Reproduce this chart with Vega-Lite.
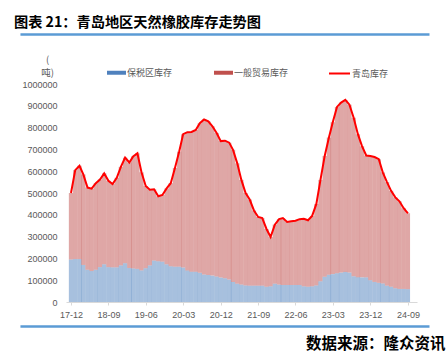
{
  "$schema": "https://vega.github.io/schema/vega-lite/v6.json",
  "width": 351,
  "height": 218,
  "autosize": {"type": "none"},
  "padding": {"left": 66, "top": 84, "right": 30, "bottom": 61},
  "background": "white",
  "config": {"view": {"stroke": null}, "font": "Liberation Sans", "axisX": {"labelOverlap": false, "labelFlush": false}},
  "title": {
    "text": "图表 21：青岛地区天然橡胶库存走势图",
    "anchor": "start",
    "frame": "group",
    "dx": -52,
    "offset": 3,
    "font": "Noto Sans CJK SC",
    "fontSize": 14.2,
    "fontWeight": "bold",
    "color": "#000000"
  },
  "data": {
    "values": [
      {"date": "2017/12/01", "保税区库存": 195000, "一般贸易库存": 305000, "青岛库存": 500000},
      {"date": "2018/01/01", "保税区库存": 197000, "一般贸易库存": 408000, "青岛库存": 605000},
      {"date": "2018/02/01", "保税区库存": 197000, "一般贸易库存": 428000, "青岛库存": 625000},
      {"date": "2018/03/01", "保税区库存": 170000, "一般贸易库存": 415000, "青岛库存": 585000},
      {"date": "2018/04/01", "保税区库存": 148000, "一般贸易库存": 377000, "青岛库存": 525000},
      {"date": "2018/05/01", "保税区库存": 142000, "一般贸易库存": 378000, "青岛库存": 520000},
      {"date": "2018/06/01", "保税区库存": 148000, "一般贸易库存": 397000, "青岛库存": 545000},
      {"date": "2018/07/01", "保税区库存": 160000, "一般贸易库存": 402000, "青岛库存": 562000},
      {"date": "2018/08/01", "保税区库存": 173000, "一般贸易库存": 417000, "青岛库存": 590000},
      {"date": "2018/09/01", "保税区库存": 160000, "一般贸易库存": 396000, "青岛库存": 556000},
      {"date": "2018/10/01", "保税区库存": 159000, "一般贸易库存": 382000, "青岛库存": 541000},
      {"date": "2018/11/01", "保税区库存": 159000, "一般贸易库存": 411000, "青岛库存": 570000},
      {"date": "2018/12/01", "保税区库存": 168000, "一般贸易库存": 452000, "青岛库存": 620000},
      {"date": "2019/01/01", "保税区库存": 178000, "一般贸易库存": 484000, "青岛库存": 662000},
      {"date": "2019/02/01", "保税区库存": 156000, "一般贸易库存": 484000, "青岛库存": 640000},
      {"date": "2019/03/01", "保税区库存": 154000, "一般贸易库存": 514000, "青岛库存": 668000},
      {"date": "2019/04/01", "保税区库存": 152000, "一般贸易库存": 530000, "青岛库存": 682000},
      {"date": "2019/05/01", "保税区库存": 145000, "一般贸易库存": 450000, "青岛库存": 595000},
      {"date": "2019/06/01", "保税区库存": 155000, "一般贸易库存": 377000, "青岛库存": 532000},
      {"date": "2019/07/01", "保税区库存": 168000, "一般贸易库存": 347000, "青岛库存": 515000},
      {"date": "2019/08/01", "保税区库存": 190000, "一般贸易库存": 327000, "青岛库存": 517000},
      {"date": "2019/09/01", "保税区库存": 187000, "一般贸易库存": 298000, "青岛库存": 485000},
      {"date": "2019/10/01", "保税区库存": 185000, "一般贸易库存": 306000, "青岛库存": 491000},
      {"date": "2019/11/01", "保税区库存": 173000, "一般贸易库存": 348000, "青岛库存": 521000},
      {"date": "2019/12/01", "保税区库存": 164000, "一般贸易库存": 381000, "青岛库存": 545000},
      {"date": "2020/01/01", "保税区库存": 162000, "一般贸易库存": 453000, "青岛库存": 615000},
      {"date": "2020/02/01", "保税区库存": 162000, "一般贸易库存": 528000, "青岛库存": 690000},
      {"date": "2020/03/01", "保税区库存": 158000, "一般贸易库存": 612000, "青岛库存": 770000},
      {"date": "2020/04/01", "保税区库存": 145000, "一般贸易库存": 634000, "青岛库存": 779000},
      {"date": "2020/05/01", "保税区库存": 139000, "一般贸易库存": 641000, "青岛库存": 780000},
      {"date": "2020/06/01", "保税区库存": 139000, "一般贸易库存": 650000, "青岛库存": 789000},
      {"date": "2020/07/01", "保税区库存": 134000, "一般贸易库存": 686000, "青岛库存": 820000},
      {"date": "2020/08/01", "保税区库存": 126000, "一般贸易库存": 711000, "青岛库存": 837000},
      {"date": "2020/09/01", "保税区库存": 124000, "一般贸易库存": 705000, "青岛库存": 829000},
      {"date": "2020/10/01", "保税区库存": 121000, "一般贸易库存": 685000, "青岛库存": 806000},
      {"date": "2020/11/01", "保税区库存": 117000, "一般贸易库存": 658000, "青岛库存": 775000},
      {"date": "2020/12/01", "保税区库存": 112000, "一般贸易库存": 626000, "青岛库存": 738000},
      {"date": "2021/01/01", "保税区库存": 109000, "一般贸易库存": 631000, "青岛库存": 740000},
      {"date": "2021/02/01", "保税区库存": 103000, "一般贸易库存": 628000, "青岛库存": 731000},
      {"date": "2021/03/01", "保税区库存": 92000, "一般贸易库存": 606000, "青岛库存": 698000},
      {"date": "2021/04/01", "保税区库存": 84000, "一般贸易库存": 552000, "青岛库存": 636000},
      {"date": "2021/05/01", "保税区库存": 80000, "一般贸易库存": 480000, "青岛库存": 560000},
      {"date": "2021/06/01", "保税区库存": 76000, "一般贸易库存": 424000, "青岛库存": 500000},
      {"date": "2021/07/01", "保税区库存": 75000, "一般贸易库存": 395000, "青岛库存": 470000},
      {"date": "2021/08/01", "保税区库存": 75000, "一般贸易库存": 345000, "青岛库存": 420000},
      {"date": "2021/09/01", "保税区库存": 75000, "一般贸易库存": 315000, "青岛库存": 390000},
      {"date": "2021/10/01", "保税区库存": 75000, "一般贸易库存": 310000, "青岛库存": 385000},
      {"date": "2021/11/01", "保税区库存": 70000, "一般贸易库存": 265000, "青岛库存": 335000},
      {"date": "2021/12/01", "保税区库存": 72000, "一般贸易库存": 226000, "青岛库存": 298000},
      {"date": "2022/01/01", "保税区库存": 84000, "一般贸易库存": 271000, "青岛库存": 355000},
      {"date": "2022/02/01", "保税区库存": 80000, "一般贸易库存": 300000, "青岛库存": 380000},
      {"date": "2022/03/01", "保税区库存": 78000, "一般贸易库存": 307000, "青岛库存": 385000},
      {"date": "2022/04/01", "保税区库存": 78000, "一般贸易库存": 289000, "青岛库存": 367000},
      {"date": "2022/05/01", "保税区库存": 78000, "一般贸易库存": 292000, "青岛库存": 370000},
      {"date": "2022/06/01", "保税区库存": 78000, "一般贸易库存": 295000, "青岛库存": 373000},
      {"date": "2022/07/01", "保税区库存": 78000, "一般贸易库存": 302000, "青岛库存": 380000},
      {"date": "2022/08/01", "保税区库存": 72000, "一般贸易库存": 310000, "青岛库存": 382000},
      {"date": "2022/09/01", "保税区库存": 70000, "一般贸易库存": 305000, "青岛库存": 375000},
      {"date": "2022/10/01", "保税区库存": 72000, "一般贸易库存": 323000, "青岛库存": 395000},
      {"date": "2022/11/01", "保税区库存": 76000, "一般贸易库存": 374000, "青岛库存": 450000},
      {"date": "2022/12/01", "保税区库存": 95000, "一般贸易库存": 465000, "青岛库存": 560000},
      {"date": "2023/01/01", "保税区库存": 116000, "一般贸易库存": 554000, "青岛库存": 670000},
      {"date": "2023/02/01", "保税区库存": 125000, "一般贸易库存": 630000, "青岛库存": 755000},
      {"date": "2023/03/01", "保税区库存": 128000, "一般贸易库存": 697000, "青岛库存": 825000},
      {"date": "2023/04/01", "保税区库存": 132000, "一般贸易库存": 763000, "青岛库存": 895000},
      {"date": "2023/05/01", "保税区库存": 135000, "一般贸易库存": 780000, "青岛库存": 915000},
      {"date": "2023/06/01", "保税区库存": 138000, "一般贸易库存": 789000, "青岛库存": 927000},
      {"date": "2023/07/01", "保税区库存": 135000, "一般贸易库存": 770000, "青岛库存": 905000},
      {"date": "2023/08/01", "保税区库存": 118000, "一般贸易库存": 727000, "青岛库存": 845000},
      {"date": "2023/09/01", "保税区库存": 114000, "一般贸易库存": 656000, "青岛库存": 770000},
      {"date": "2023/10/01", "保税区库存": 113000, "一般贸易库存": 602000, "青岛库存": 715000},
      {"date": "2023/11/01", "保税区库存": 113000, "一般贸易库存": 559000, "青岛库存": 672000},
      {"date": "2023/12/01", "保税区库存": 100000, "一般贸易库存": 570000, "青岛库存": 670000},
      {"date": "2024/01/01", "保税区库存": 92000, "一般贸易库存": 573000, "青岛库存": 665000},
      {"date": "2024/02/01", "保税区库存": 88000, "一般贸易库存": 567000, "青岛库存": 655000},
      {"date": "2024/03/01", "保税区库存": 85000, "一般贸易库存": 510000, "青岛库存": 595000},
      {"date": "2024/04/01", "保税区库存": 75000, "一般贸易库存": 475000, "青岛库存": 550000},
      {"date": "2024/05/01", "保税区库存": 70000, "一般贸易库存": 440000, "青岛库存": 510000},
      {"date": "2024/06/01", "保税区库存": 63000, "一般贸易库存": 417000, "青岛库存": 480000},
      {"date": "2024/07/01", "保税区库存": 60000, "一般贸易库存": 402000, "青岛库存": 462000},
      {"date": "2024/08/01", "保税区库存": 60000, "一般贸易库存": 370000, "青岛库存": 430000},
      {"date": "2024/09/01", "保税区库存": 59000, "一般贸易库存": 348000, "青岛库存": 407000}
    ]
  },
  "layer": [
    {
      "transform": [{"fold": ["保税区库存", "一般贸易库存"], "as": ["类别", "库存"]}],
      "mark": {"type": "bar", "width": 4.3, "opacity": 0.5},
      "encoding": {
        "x": {
          "field": "date",
          "type": "temporal",
          "scale": {"domain": [{"year": 2017, "month": 12, "date": 1}, {"year": 2024, "month": 10, "date": 1}]},
          "axis": {
            "values": [
              {"year": 2017, "month": 12, "date": 1},
              {"year": 2018, "month": 9, "date": 1},
              {"year": 2019, "month": 6, "date": 1},
              {"year": 2020, "month": 3, "date": 1},
              {"year": 2020, "month": 12, "date": 1},
              {"year": 2021, "month": 9, "date": 1},
              {"year": 2022, "month": 6, "date": 1},
              {"year": 2023, "month": 3, "date": 1},
              {"year": 2023, "month": 12, "date": 1},
              {"year": 2024, "month": 9, "date": 1}
            ],
            "tickCount": 30,
            "format": "%y-%m",
            "labelFont": "Liberation Sans",
            "labelFontSize": 9,
            "labelColor": "#595959",
            "labelFlush": false,
            "labelOverlap": false,
            "labelPadding": 5,
            "domainColor": "#d9d9d9",
            "tickColor": "#d9d9d9",
            "tickSize": 3,
            "grid": false,
            "title": "数据来源：隆众资讯",
            "titleFont": "Noto Sans CJK SC",
            "titleFontSize": 15.5,
            "titleFontWeight": "bold",
            "titleColor": "#000000",
            "titleAlign": "right",
            "titleBaseline": "middle",
            "titleX": 379,
            "titleY": 41
          }
        },
        "y": {
          "field": "库存",
          "type": "quantitative",
          "stack": "zero",
          "scale": {"domain": [0, 1000000], "nice": false},
          "axis": {
            "values": [0, 100000, 200000, 300000, 400000, 500000, 600000, 700000, 800000, 900000, 1000000],
            "tickCount": 20,
            "format": "d",
            "labelFont": "Liberation Sans",
            "labelFontSize": 9,
            "labelColor": "#595959",
            "labelPadding": 9,
            "domain": false,
            "ticks": false,
            "grid": false,
            "title": ["(", "吨)"],
            "titleAngle": 0,
            "titleX": -19,
            "titleY": -25,
            "titleAlign": "center",
            "titleBaseline": "middle",
            "titleFont": "Noto Sans CJK SC",
            "titleFontSize": 9.5,
            "titleFontWeight": "normal",
            "titleColor": "#595959",
            "titleLineHeight": 13
          }
        },
        "fill": {
          "field": "类别",
          "type": "nominal",
          "scale": {"domain": ["保税区库存", "一般贸易库存"], "range": ["#4f81bd", "#c0504d"]},
          "legend": {
            "orient": "none",
            "direction": "horizontal",
            "legendX": 41,
            "legendY": -21,
            "title": null,
            "padding": 0,
            "symbolType": "M-1,-0.21H1V0.21H-1Z",
            "symbolSize": 361,
            "symbolStrokeWidth": 0,
            "symbolOpacity": 1,
            "labelFont": "Noto Sans CJK SC",
            "labelFontSize": 9,
            "labelColor": "#595959",
            "labelOffset": 1,
            "columnPadding": 41
          }
        },
        "order": {"field": "类别", "sort": "descending"}
      }
    },
    {
      "mark": {"type": "line", "strokeWidth": 2, "color": "#ff0000"},
      "encoding": {
        "x": {"field": "date", "type": "temporal"},
        "y": {"field": "青岛库存", "type": "quantitative"},
        "stroke": {
          "datum": "青岛库存",
          "type": "nominal",
          "scale": {"range": ["#ff0000"]},
          "legend": {
            "orient": "none",
            "legendX": 262,
            "legendY": -22,
            "title": null,
            "padding": 0,
            "symbolType": "stroke",
            "symbolSize": 441,
            "symbolStrokeWidth": 2,
            "labelFont": "Noto Sans CJK SC",
            "labelFontSize": 9,
            "labelColor": "#595959",
            "labelOffset": 1
          }
        }
      }
    },
    {
      "data": {"values": [{"k": "top"}]},
      "mark": {"type": "rule", "color": "#5b9bd5", "strokeWidth": 2.5},
      "encoding": {
        "x": {"datum": {"year": 2016, "month": 11, "date": 26}, "type": "temporal"},
        "x2": {"datum": {"year": 2025, "month": 2, "date": 6}},
        "y": {"datum": 1227000, "type": "quantitative"}
      }
    },
    {
      "data": {"values": [{"k": "bottom"}]},
      "mark": {"type": "rule", "color": "#5b9bd5", "strokeWidth": 2.5},
      "encoding": {
        "x": {"datum": {"year": 2016, "month": 11, "date": 26}, "type": "temporal"},
        "x2": {"datum": {"year": 2025, "month": 2, "date": 6}},
        "y": {"datum": -112000, "type": "quantitative"}
      }
    }
  ]
}
